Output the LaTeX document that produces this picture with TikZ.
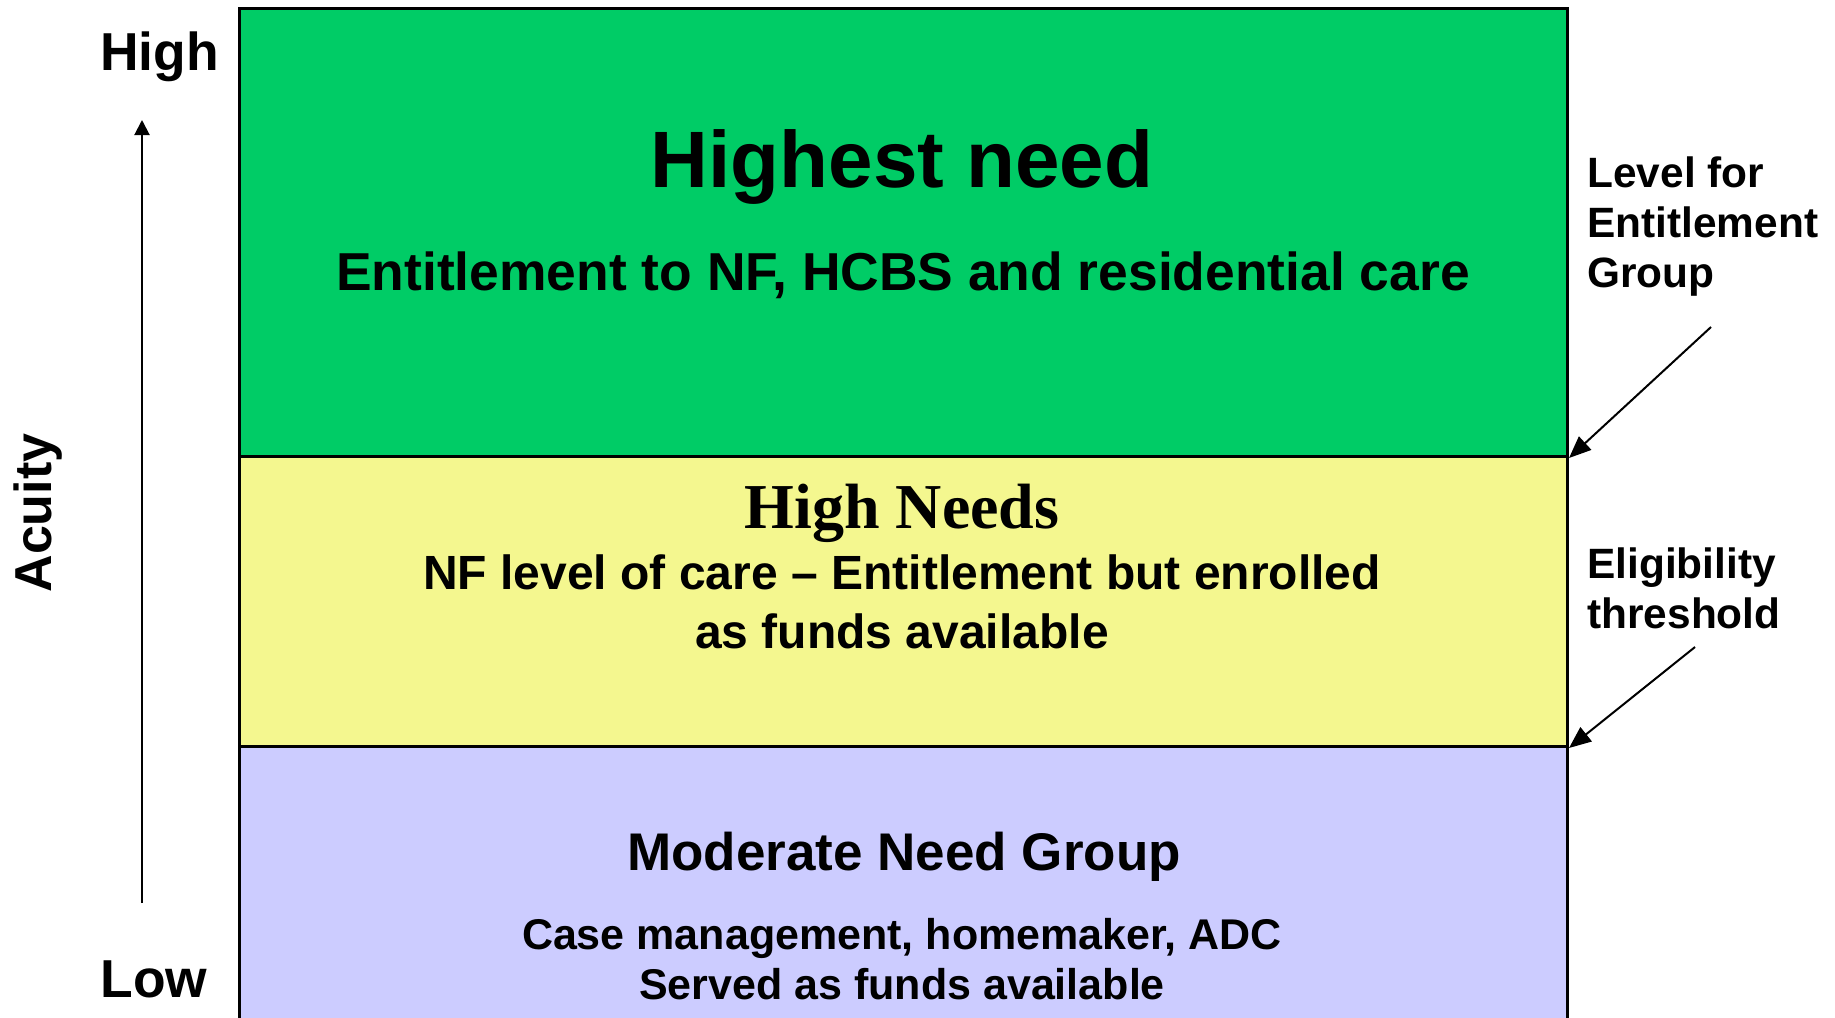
\documentclass[tikz,border=0pt]{standalone}
\usepackage{fontspec}
\setmainfont{Liberation Sans}
\newfontfamily\serifbf{Liberation Serif}
\usetikzlibrary{arrows.meta}
\definecolor{bandgreen}{RGB}{0,204,102}
\definecolor{bandyellow}{RGB}{244,247,143}
\definecolor{bandblue}{RGB}{204,204,255}
\tikzstyle{band}=[draw=black,line width=1.5pt,inner sep=0pt,minimum width=664pt,anchor=north west]
\tikzstyle{pointer}=[-{Triangle[length=11pt,width=9pt]},line width=1pt]
\tikzstyle{txt}=[inner sep=0pt,align=center,anchor=base,font=\bfseries]
\tikzstyle{side}=[inner sep=0pt,align=left,anchor=base west,font=\bfseries\fontsize{21.2}{25}\selectfont]

\begin{document}
\begin{tikzpicture}[x=0.5pt,y=-0.5pt]
    \useasboundingbox (0,0) rectangle (1835,1017);
    \node[band,fill=bandgreen,minimum height=224pt] (highest) at (238,7) {};
    \node[band,fill=bandyellow,minimum height=145pt] (highneeds) at (238,455) {};
    \node[band,fill=bandblue,minimum height=160pt] (moderate) at (238,745) {};

    % acuity scale
    \node[txt,anchor=base west,font=\bfseries\fontsize{26.7}{32}\selectfont] (high) at (100,70) {High};
    \node[txt,anchor=base west,font=\bfseries\fontsize{26.7}{32}\selectfont] (low) at (100,997) {Low};
    \node[txt,anchor=center,rotate=90,font=\bfseries\fontsize{26}{30}\selectfont] (acuity) at (38,513) {Acuity};
    \coordinate (up0) at (142,903);
    \coordinate (up1) at (142,120);
    \draw[-{Triangle[length=7.5pt,width=7.5pt]},line width=1pt] (up0) -- (up1);

    % band texts
    \node[txt,font=\bfseries\fontsize{40}{48}\selectfont] (t1) at (902,187) {Highest need};
    \node[txt,font=\bfseries\fontsize{26.7}{32}\selectfont] (t2) at (903,290) {Entitlement to NF, HCBS and residential care};
    \node[txt,font=\serifbf\bfseries\fontsize{32}{38}\selectfont] (t3) at (902,528) {High Needs};
    \node[txt,font=\bfseries\fontsize{24}{29.5}\selectfont] (t4) at (902,648) {NF level of care -- Entitlement but enrolled\\as funds available};
    \node[txt,font=\bfseries\fontsize{26.5}{32}\selectfont] (t5) at (904,870) {Moderate Need Group};
    \node[txt,font=\bfseries\fontsize{21.5}{25}\selectfont] (t6) at (902,999) {Case management, homemaker, ADC\\Served as funds available};

    % thresholds
    \node[side] (lvl) at (1587,287) {Level for\\Entitlement\\Group};
    \node[side] (elig) at (1587,628) {Eligibility\\threshold};
    \coordinate (p1) at (1711,327);
    \coordinate (p2) at (1695,647);
    \foreach \from/\to in {p1/highest.south east,p2/highneeds.south east}
    \draw[pointer] (\from) -- (\to);
\end{tikzpicture}
\end{document}
